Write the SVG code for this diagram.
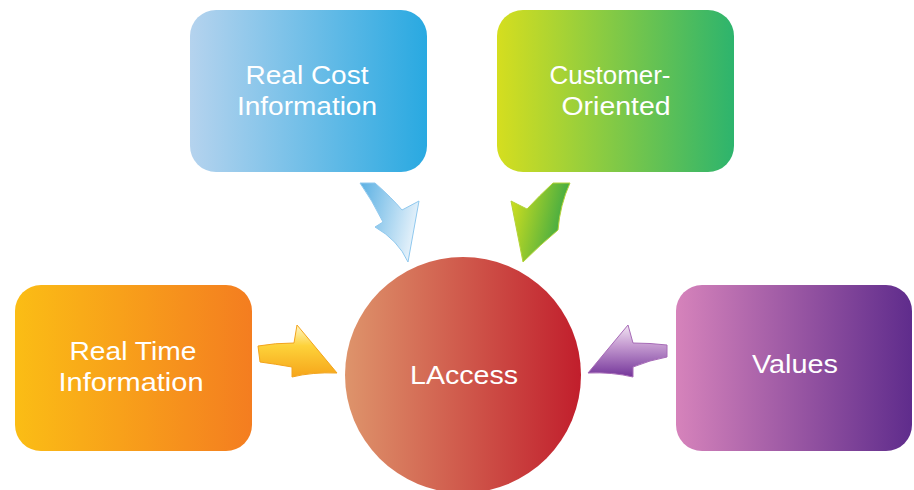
<svg xmlns="http://www.w3.org/2000/svg" width="914" height="490" viewBox="0 0 914 490">
<defs>
<linearGradient id="gBlue" x1="0" y1="0" x2="1" y2="0"><stop offset="0" stop-color="#b5d3ee"/><stop offset="1" stop-color="#29a9e1"/></linearGradient>
<linearGradient id="gGreen" x1="0" y1="0" x2="1" y2="0"><stop offset="0" stop-color="#d5de1f"/><stop offset="1" stop-color="#2db46d"/></linearGradient>
<linearGradient id="gOrange" x1="0" y1="0" x2="1" y2="0"><stop offset="0" stop-color="#fbbd15"/><stop offset="1" stop-color="#f47d20"/></linearGradient>
<linearGradient id="gPurple" x1="0" y1="0" x2="1" y2="0"><stop offset="0" stop-color="#d683bb"/><stop offset="1" stop-color="#5f2c8c"/></linearGradient>
<linearGradient id="gRed" x1="0" y1="0" x2="1" y2="0"><stop offset="0" stop-color="#de946b"/><stop offset="1" stop-color="#c11e2c"/></linearGradient>
<linearGradient id="aBlue" x1="0" y1="0" x2="1" y2="0.3"><stop offset="0" stop-color="#5ab0e3"/><stop offset="1" stop-color="#e2f0fa"/></linearGradient>
<linearGradient id="aGreen" x1="0" y1="0" x2="1" y2="0.3"><stop offset="0" stop-color="#d9e21c"/><stop offset="1" stop-color="#3aa845"/></linearGradient>
<linearGradient id="aOrange" x1="0" y1="0" x2="0" y2="1"><stop offset="0" stop-color="#fff6c8"/><stop offset="0.4" stop-color="#fdd23a"/><stop offset="1" stop-color="#f6a51a"/></linearGradient>
<linearGradient id="aPurple" x1="0" y1="0" x2="0" y2="1"><stop offset="0" stop-color="#f2e4f3"/><stop offset="0.4" stop-color="#c49ad0"/><stop offset="1" stop-color="#74359a"/></linearGradient>
</defs>
<style>
.lbl{font-family:"Liberation Sans",Arial,sans-serif;font-size:25.5px;fill:#ffffff;text-anchor:middle}
</style>
<g id="connectors">
<path id="arrow-blue" d="M360,183 L375,183 Q392,198 402,210 L419,201 L408,262 Q398,240 375,227 L383,222 Q372,200 360,183 Z" fill="url(#aBlue)" stroke="#8fc8ee" stroke-width="1"/>
<path id="arrow-green" d="M553,183 L570,183 Q560,205 558,230 Q540,245 523,262 L511,201 L527,209 Q540,195 553,183 Z" fill="url(#aGreen)" stroke="#b5d33a" stroke-width="1"/>
<path id="arrow-orange" d="M258,346 Q275,343 294,343 L297,325 L337,373 Q312,372 292,377 L292,367 Q275,364 260,362 Z" fill="url(#aOrange)" stroke="#f3a41c" stroke-width="1"/>
<path id="arrow-purple" d="M667,345 Q650,343 633,343 L628,325 L588,373 Q612,372 633,377 L633,367 Q650,360 667,357 Z" fill="url(#aPurple)" stroke="#a76bb7" stroke-width="1"/>
</g>
<g id="node-realcost">
<rect x="190" y="10" width="237" height="162" rx="26" fill="url(#gBlue)"/>
<text class="lbl" x="307" y="84" textLength="123" lengthAdjust="spacingAndGlyphs">Real Cost</text>
<text class="lbl" x="307" y="115" textLength="140" lengthAdjust="spacingAndGlyphs">Information</text>
</g>
<g id="node-customer">
<rect x="497" y="10" width="237" height="162" rx="26" fill="url(#gGreen)"/>
<text class="lbl" x="610" y="84" textLength="121" lengthAdjust="spacingAndGlyphs">Customer-</text>
<text class="lbl" x="616" y="115" textLength="109" lengthAdjust="spacingAndGlyphs">Oriented</text>
</g>
<g id="node-realtime">
<rect x="15" y="285" width="237" height="166" rx="26" fill="url(#gOrange)"/>
<text class="lbl" x="133" y="360" textLength="127" lengthAdjust="spacingAndGlyphs">Real Time</text>
<text class="lbl" x="131" y="391" textLength="145" lengthAdjust="spacingAndGlyphs">Information</text>
</g>
<g id="node-values">
<rect x="676" y="285" width="236" height="166" rx="26" fill="url(#gPurple)"/>
<text class="lbl" x="795" y="373" textLength="86" lengthAdjust="spacingAndGlyphs">Values</text>
</g>
<g id="node-laccess">
<circle cx="463" cy="375" r="118" fill="url(#gRed)"/>
<text class="lbl" x="464" y="384" textLength="108" lengthAdjust="spacingAndGlyphs">LAccess</text>
</g>
</svg>
